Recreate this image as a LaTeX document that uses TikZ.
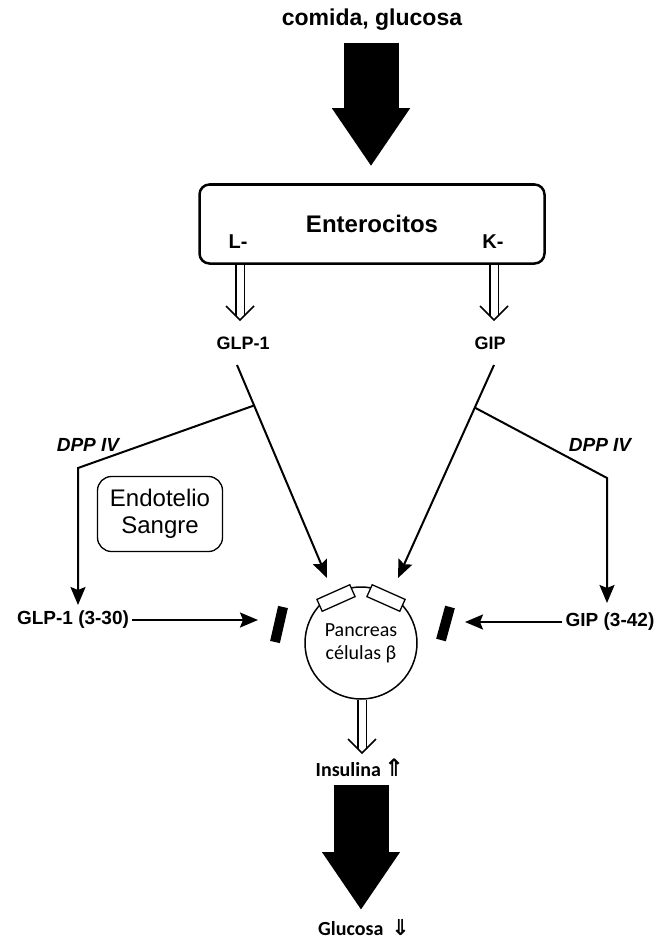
\documentclass[tikz,border=0pt]{standalone}
\usepackage{fontspec}
\setmainfont{Liberation Sans}
\newfontfamily\calfont{Carlito}
\newfontfamily\symfont{DejaVu Sans}
\usetikzlibrary{arrows.meta, positioning, calc}

\tikzset{
  thinarrow/.style={line width=2pt, -{Stealth[length=18pt, width=15pt, inset=3pt]}},
  hollowshaft/.style={double, double distance=7pt, line width=1.5pt},
  hollowhead/.style={line width=1.5pt, line join=miter},
  bigarrow/.style={line width=55pt, -{Triangle[length=58pt, width=74pt]}},
  blocker/.style={line width=10pt},
  hormone/.style={font=\bfseries\fontsize{18}{20}\selectfont, inner sep=1pt},
  fragment/.style={font=\bfseries\fontsize{19}{22}\selectfont, inner sep=3pt},
  enzyme/.style={font=\bfseries\itshape\fontsize{19}{22}\selectfont, inner sep=1pt},
  receptor/.style={draw, fill=white, line width=1.3pt, minimum width=36pt, minimum height=13pt, inner sep=0pt}
}
% hollow double arrow: start, tip
\newcommand\hollowarrow[2]{%
  \draw[hollowshaft] (#1) -- ($(#2)+(0,-4.5)$);
  \draw[hollowhead] ($(#2)+(-14,-14)$) -- (#2) -- ($(#2)+(14,-14)$);}

\begin{document}
\begin{tikzpicture}[x=1pt, y=-1pt]
    \useasboundingbox (0,0) rectangle (663,944);
    % food input
    \node[font=\bfseries\fontsize{23}{27}\selectfont] (food) at (372,20) {comida, glucosa};
    \coordinate (foodout) at (371,43);
    \node[draw, line width=2.5pt, rounded corners=10pt, minimum width=345pt, minimum height=79pt,
          font=\bfseries\fontsize{24}{28}\selectfont] (entero) at (372,224) {Enterocitos};
    \draw[bigarrow, shorten >=17pt] (foodout) -- (foodout |- entero.north);
    \node[hormone, font=\bfseries\fontsize{20}{22}\selectfont] (Lcell) at (238,242) {L-};
    \node[hormone, font=\bfseries\fontsize{20}{22}\selectfont] (Kcell) at (493,242) {K-};
    % hormones
    \node[hormone] (glp) at (243,343) {GLP-1};
    \node[hormone] (gip) at (490,343) {GIP};
    \coordinate (glpin) at (240,320);
    \coordinate (gipin) at (494,320);
    \hollowarrow{entero.south -| glpin}{glpin}
    \hollowarrow{entero.south -| gipin}{gipin}
    % pancreas
    \node[draw, circle, line width=1.5pt, minimum size=112pt, align=center,
          font=\calfont\fontsize{20}{23}\selectfont] (panc) at (361,643) {Pancreas\\células β};
    \node[receptor, rotate=24] (rl) at (336,598) {};
    \node[receptor, rotate=-24] (rr) at (386,598) {};
    \coordinate (rltip) at (327,578);
    \coordinate (rrtip) at (398,578);
    \coordinate (glpout) at (237,365);
    \coordinate (gipout) at (494,365);
    \draw[thinarrow] (glpout) -- (rltip);
    \draw[thinarrow] (gipout) -- (rrtip);
    % DPP IV breakdown
    \coordinate (bl) at ($(glpout)!0.19!(rltip)$);
    \coordinate (br) at ($(gipout)!0.2!(rrtip)$);
    \coordinate (bl2) at (78,468);
    \coordinate (br2) at (607,478);
    \node[enzyme] (dppl) at (88,445) {DPP IV};
    \node[enzyme] (dppr) at (600,445) {DPP IV};
    \node[fragment] (glp3) at (73,620) {GLP-1 (3-30)};
    \node[fragment] (gip3) at (610,622) {GIP (3-42)};
    \draw[thinarrow] (bl) -- (bl2) -- (bl2 |- 0,605);
    \draw[thinarrow] (br) -- (br2) -- (br2 |- 0,603);
    \node[draw, line width=1.3pt, rounded corners=14pt, minimum width=125pt, minimum height=75pt,
          align=center, font=\fontsize{24}{27}\selectfont] (endo) at (160,514) {Endotelio\\Sangre};
    % blocked fragments
    \coordinate (blL) at (258,620);
    \coordinate (blR) at (465,622);
    \draw[thinarrow] (glp3.east) -- (blL);
    \draw[thinarrow] (gip3.west) -- (blR);
    \draw[blocker] (283,607) -- (275,642);
    \draw[blocker] (450,607) -- (441,640);
    % insulin and glucose
    \node[font=\calfont\bfseries\fontsize{20}{23}\selectfont] (ins) at (360,768)
        {Insulina\,{\symfont\fontsize{24}{24}\selectfont ⇑}};
    \coordinate (insin) at (362,753);
    \hollowarrow{panc.south -| insin}{insin}
    \coordinate (insout) at (361,785);
    \coordinate (glucin) at (361,910);
    \draw[bigarrow] (insout) -- (glucin);
    \node[font=\calfont\bfseries\fontsize{20}{22}\selectfont, inner sep=1pt] (gluc) at (364,928)
        {Glucosa\hspace{8pt}{\symfont\fontsize{22}{22}\selectfont ⇓}};
\end{tikzpicture}
\end{document}
